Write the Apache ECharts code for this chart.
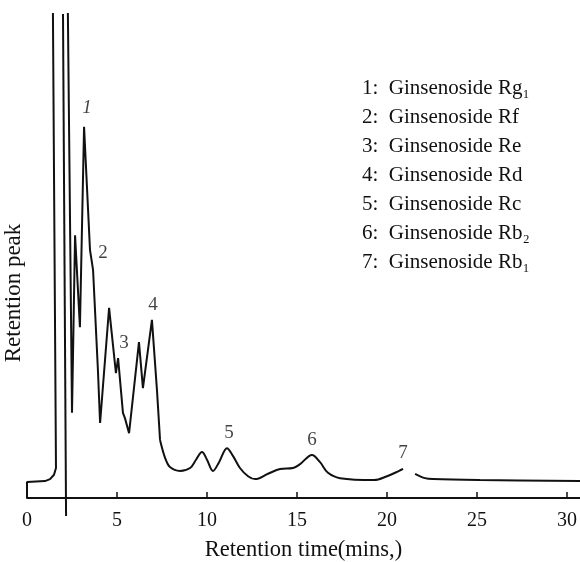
<!DOCTYPE html>
<html>
<head>
<meta charset="utf-8">
<script src="https://cdn.jsdelivr.net/npm/echarts@6/dist/echarts.min.js"></script>
<style>html,body{margin:0;padding:0;background:#fff;}#c{width:580px;height:562px;}</style>
</head>
<body>
<div id="c"></div>
<script>
// Sharp early part of the chromatogram (time in min, detector response)
const sharpTimes  = [0, 0, 1.0, 1.28, 1.5, 1.61, 1.44, 1.9, 2.27, 2.5, 2.67, 2.94, 3.17, 3.5, 3.61, 3.67, 3.94, 4.06, 4.56, 4.94, 5.06, 5.33, 5.44, 5.67, 6.22, 6.44, 6.94, 7.22, 7.39];
const sharpValues = [0, 3.3, 3.5, 3.9, 4.8, 6.2, 100.5, 140, 100.5, 17.6, 54.3, 35.3, 76.7, 51.2, 48.6, 47.1, 26.4, 15.5, 39.3, 25.8, 28.9, 17.6, 16.5, 13.4, 32.2, 22.7, 36.8, 22.3, 12.0];
// Smooth later part (null = gap in the trace)
const smoothTimes  = [7.39, 7.67, 7.94, 8.5, 9.06, 9.39, 9.72, 10.0, 10.33, 10.67, 11.11, 11.44, 11.83, 12.28, 12.67, 13.39, 14.06, 14.78, 15.17, 15.83, 16.28, 16.72, 17.39, 19.28, 20.0, 20.67, 20.89, 21.2, 21.56, 22.11, 22.56, 25.17, 30.72];
const smoothValues = [12.0, 8.3, 6.4, 5.6, 6.2, 7.9, 9.5, 7.9, 5.6, 7.4, 10.3, 8.7, 6.2, 4.5, 3.9, 5.0, 6.0, 6.2, 7.0, 8.9, 7.4, 5.2, 4.1, 3.7, 4.5, 5.6, 6.0, null, 5.0, 4.1, 3.9, 3.7, 3.5];
// Injection marker
const injectionTimes  = [2.0, 2.17];
const injectionValues = [100, -3.7];
// Peak labels
const peakIds     = ['1', '2', '3', '4', '5', '6', '7'];
const peakTimes   = [3.17, 3.61, 5.06, 6.94, 11.11, 15.83, 20.89];
const peakHeights = [76.7, 48.6, 28.9, 36.8, 10.3, 8.9, 6.0];
// Compound list
const compoundNames = ['1:  Ginsenoside Rg\u2081', '2:  Ginsenoside Rf', '3:  Ginsenoside Re', '4:  Ginsenoside Rd', '5:  Ginsenoside Rc', '6:  Ginsenoside Rb\u2082', '7:  Ginsenoside Rb\u2081'];
// Axis
const xTickValues = [0, 5, 10, 15, 20, 25, 30];
const xAxisTitle = 'Retention time(mins,)';
const yAxisTitle = 'Retention peak';

const SERIF = '"Liberation Serif", "Times New Roman", "DejaVu Serif", serif';
const zip = (a, b) => a.map((v, i) => [v, b[i]]);
const labelOffsets = [[3, -19], [11, -10], [6, -15], [1, -15], [2, -15], [0, -15], [0, -16]];

const chart = echarts.init(document.getElementById('c'), null, {renderer: 'canvas'});
chart.setOption({
  animation: false,
  backgroundColor: '#fff',
  grid: {left: 27, right: 0, top: 14, bottom: 64, containLabel: false, outerBoundsMode: 'none'},
  title: {
    text: compoundNames.join('\n'),
    left: 362, top: 74, padding: 0,
    textStyle: {fontFamily: SERIF, fontSize: 21, fontWeight: 'normal', color: '#111', lineHeight: 29}
  },
  graphic: [{
    type: 'text', x: 14, y: 293, rotation: Math.PI / 2,
    style: {text: yAxisTitle, font: '23px ' + SERIF, fill: '#111', textAlign: 'center', textVerticalAlign: 'middle'}
  }],
  xAxis: {
    type: 'value', min: 0, max: 30.72,
    splitLine: {show: false},
    axisLine: {show: true, lineStyle: {color: '#111', width: 2}},
    axisTick: {show: true, inside: true, length: 6, customValues: xTickValues, lineStyle: {color: '#111', width: 1.5}},
    axisLabel: {customValues: xTickValues, fontFamily: SERIF, fontSize: 20, color: '#111', margin: 13},
    name: xAxisTitle, nameLocation: 'middle', nameGap: 41,
    nameTextStyle: {fontFamily: SERIF, fontSize: 22.5, color: '#111'}
  },
  yAxis: {type: 'value', min: 0, max: 100, show: false},
  series: [
    {type: 'line', data: zip(sharpTimes, sharpValues), showSymbol: false, symbol: 'none',
     lineStyle: {color: '#111', width: 2}, smooth: false, clip: true},
    {type: 'line', data: zip(smoothTimes, smoothValues), showSymbol: false, symbol: 'none',
     lineStyle: {color: '#111', width: 2}, smooth: 0.35, connectNulls: false, clip: true},
    {type: 'line', data: zip(injectionTimes, injectionValues), showSymbol: false, symbol: 'none',
     lineStyle: {color: '#111', width: 2}, clip: false},
    {type: 'scatter', symbolSize: 0, clip: false,
     data: peakTimes.map((t, i) => ({
       value: [t, peakHeights[i]],
       label: {show: true, formatter: peakIds[i], position: 'inside', offset: labelOffsets[i],
               fontStyle: i === 0 ? 'italic' : 'normal'}
     })),
     label: {fontFamily: SERIF, fontSize: 19, color: '#111'}}
  ]
});
</script>
</body>
</html>
